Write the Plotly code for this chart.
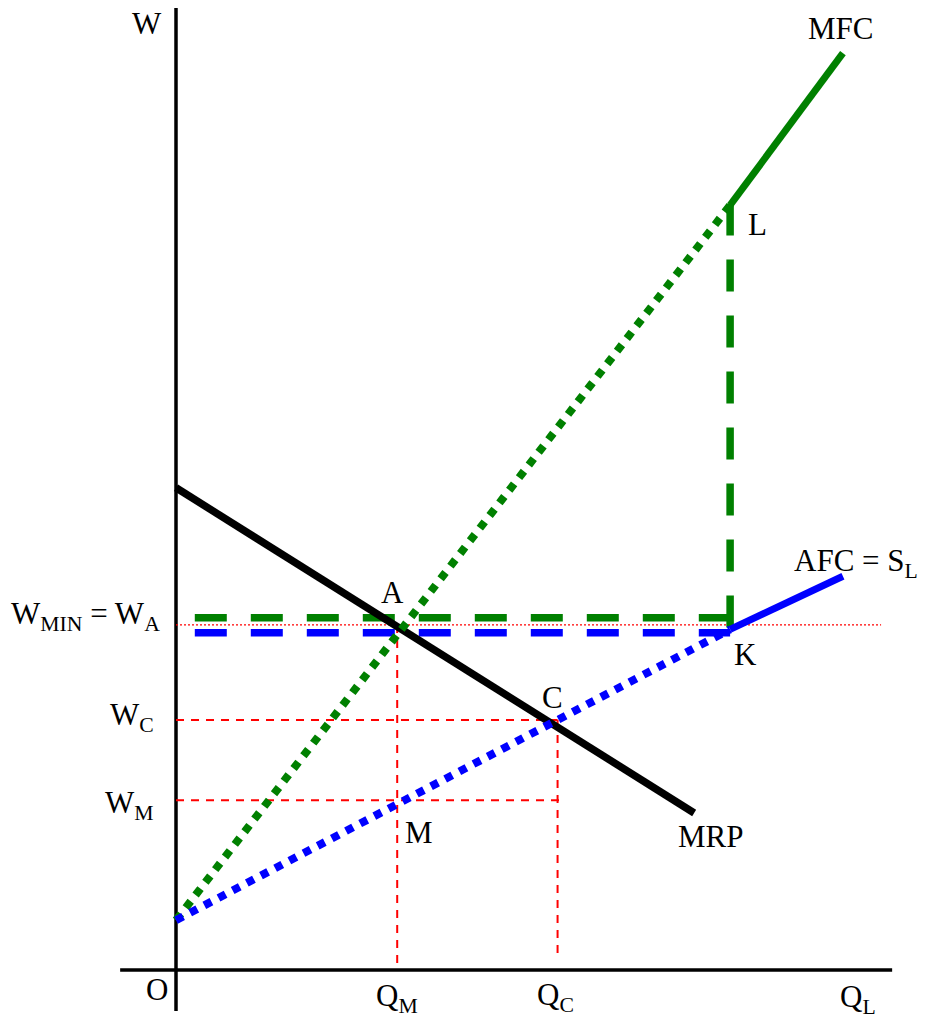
import plotly.graph_objects as go

# pixels per unit, so the diagram keeps the proportions of the original drawing
SCALE = 5.53
# the page body adds an 8px margin around the figure
PAGE_OFFSET = 8

# quantities of labour on the horizontal axis
q_levels = {"Q_M": 40.0, "Q_C": 69.0, "Q_K": 100.2}

# wage levels on the vertical axis
w_levels = {"W_A": 62.4, "W_C": 45.2, "W_M": 30.7}

# marginal revenue product of labour
mrp_q = [0.0, 93.7]
mrp_w = [87.2, 28.4]

# marginal factor cost (dotted up to L, solid after)
mfc_q = [0.0, 100.2, 120.6]
mfc_w = [9.0, 138.3, 165.8]

# average factor cost = labour supply (dotted up to K, solid after)
afc_q = [0.0, 100.2, 120.6]
afc_w = [9.0, 61.6, 71.2]

FONT = "Liberation Serif, Times New Roman, serif"
GREEN = "#008000"
BLUE = "#0000ff"
RED = "#ff0000"


def line(fig, xs, ys, color, width, dash="solid"):
    fig.add_trace(go.Scatter(x=xs, y=ys, mode="lines", hoverinfo="skip",
                             line=dict(color=color, width=width, dash=dash)))


def plot_minimum_wage():
    """
    Draws the monopsony labour market diagram with a minimum wage W_MIN = W_A.
    """
    fig = go.Figure()

    q_m, q_c, q_k = q_levels["Q_M"], q_levels["Q_C"], q_levels["Q_K"]
    w_a, w_c, w_m = w_levels["W_A"], w_levels["W_C"], w_levels["W_M"]

    # axes
    line(fig, [0, 0], [-7.4, 174.1], "black", 3.5)
    line(fig, [-10.1, 129.5], [0, 0], "black", 3.5)

    # red guide lines
    red_dash = "8px,7px"
    line(fig, [0, 127.5], [w_a, w_a], RED, 1.2, "2px,2px")
    line(fig, [0, q_c], [w_c, w_c], RED, 2, red_dash)
    line(fig, [0, q_c + 0.7], [w_m, w_m], RED, 2, red_dash)
    line(fig, [q_m, q_m], [w_a, 0], RED, 2, red_dash)
    line(fig, [q_c, q_c], [w_c, 1.8], RED, 2, red_dash)

    # minimum wage, drawn twice (green over the blue)
    big_dash = "32px,24px"
    line(fig, [3.4, q_k], [w_a + 1.3, w_a + 1.3], GREEN, 7.5, big_dash)
    line(fig, [3.4, q_k], [w_a - 1.4, w_a - 1.4], BLUE, 7.5, big_dash)
    line(fig, [q_k, q_k], [mfc_w[1] + 0.3, w_a - 0.6], GREEN, 7.5, big_dash)

    # curves
    dots = "8px,8px"
    line(fig, mrp_q, mrp_w, "black", 7.5)
    line(fig, mfc_q[:2], mfc_w[:2], GREEN, 8, dots)
    line(fig, mfc_q[1:], mfc_w[1:], GREEN, 7)
    line(fig, afc_q[:2], afc_w[:2], BLUE, 8, dots)
    line(fig, afc_q[1:], afc_w[1:], BLUE, 7)

    labels = [
        ("W", -5.2, 171.2, "center"),
        ("MFC", 120.1, 170.3, "center"),
        ("L", 105.1, 134.9, "center"),
        ("AFC = S<sub>L</sub>", 123.0, 73.6, "center"),
        ("K", 102.9, 57.0, "center"),
        ("A", 39.2, 68.2, "center"),
        ("C", 68.0, 49.2, "center"),
        ("M", 43.9, 24.8, "center"),
        ("MRP", 96.6, 24.1, "center"),
        ("W<sub>MIN</sub> = W<sub>A</sub>", -2.6, 64.0, "right"),
        ("W<sub>C</sub>", -3.6, 45.8, "right"),
        ("W<sub>M</sub>", -3.6, 29.9, "right"),
        ("O", -3.4, -3.6, "center"),
        ("Q<sub>M</sub>", q_m, -5.0, "center"),
        ("Q<sub>C</sub>", 68.6, -4.8, "center"),
        ("Q<sub>L</sub>", 123.3, -5.2, "center"),
    ]
    for text, x, y, anchor in labels:
        fig.add_annotation(x=x, y=y, text=text, showarrow=False,
                           xanchor=anchor, yanchor="middle",
                           font=dict(family=FONT, size=31, color="black"))

    left = (PAGE_OFFSET - 176) / SCALE
    top = (970 - PAGE_OFFSET) / SCALE
    fig.update_layout(
        width=926, height=1021,
        margin=dict(l=0, r=0, t=0, b=0),
        plot_bgcolor="white", paper_bgcolor="white",
        showlegend=False, hovermode=False,
        xaxis=dict(visible=False, range=[left, left + 926 / SCALE]),
        yaxis=dict(visible=False, range=[top - 1021 / SCALE, top]),
    )
    return fig


if __name__ == '__main__':

    fig = plot_minimum_wage()
    fig.write_html("out.html")
